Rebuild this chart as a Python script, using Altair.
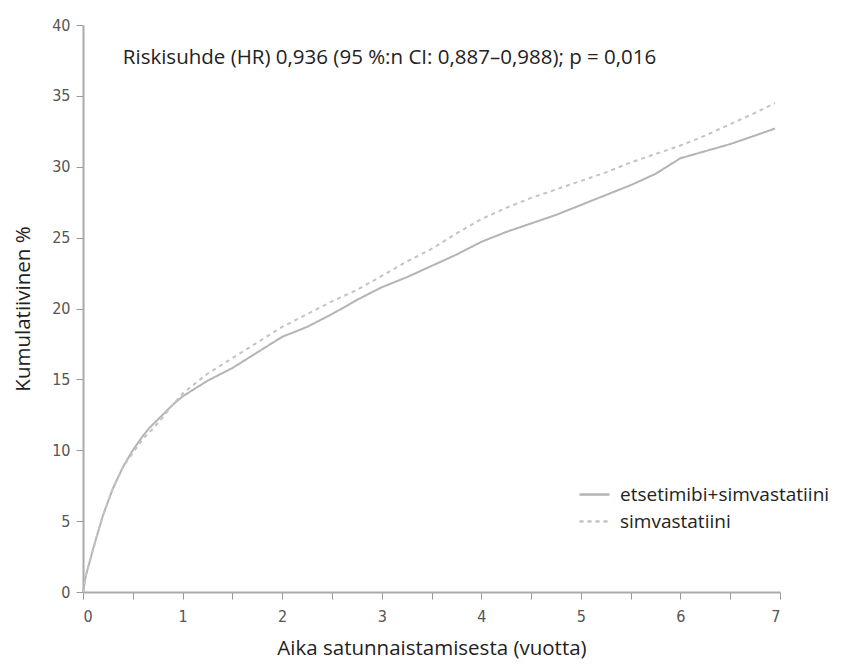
import altair as alt
import pandas as pd

series_names = ["etsetimibi+simvastatiini", "simvastatiini"]

years_combo = [0, 0.03, 0.07, 0.1, 0.2, 0.3, 0.4, 0.5, 0.6, 0.67, 0.8, 0.9, 1.0, 1.25, 1.5, 1.75,
               2.0, 2.25, 2.5, 2.75, 3.0, 3.25, 3.5, 3.75, 4.0, 4.25, 4.5, 4.75, 5.0,
               5.25, 5.5, 5.75, 6.0, 6.25, 6.5, 6.75, 6.95]
cum_combo = [0, 1.2, 2.2, 3.0, 5.4, 7.3, 8.8, 10.0, 11.0, 11.6, 12.5, 13.2, 13.8, 14.9, 15.8, 16.9,
             18.0, 18.7, 19.6, 20.6, 21.5, 22.2, 23.0, 23.8, 24.7, 25.4, 26.0, 26.6, 27.3,
             28.0, 28.7, 29.5, 30.6, 31.1, 31.6, 32.2, 32.7]

years_simva = [0, 0.03, 0.07, 0.1, 0.2, 0.3, 0.4, 0.5, 0.6, 0.7, 0.8, 0.9, 1.0, 1.25, 1.5, 1.75,
               2.0, 2.25, 2.5, 2.75, 3.0, 3.25, 3.5, 3.75, 4.0, 4.25, 4.5, 4.75, 5.0,
               5.25, 5.5, 5.75, 6.0, 6.25, 6.5, 6.75, 6.95]
cum_simva = [0, 1.2, 2.2, 3.0, 5.4, 7.3, 8.8, 9.8, 10.8, 11.5, 12.3, 13.2, 14.0, 15.4, 16.5, 17.6,
             18.7, 19.6, 20.5, 21.3, 22.3, 23.3, 24.2, 25.3, 26.3, 27.1, 27.8, 28.4, 29.0,
             29.6, 30.3, 30.9, 31.5, 32.2, 33.0, 33.8, 34.5]

annotation = "Riskisuhde (HR) 0,936 (95 %:n CI: 0,887–0,988); p = 0,016"
x_title = "Aika satunnaistamisesta (vuotta)"
y_title = "Kumulatiivinen %"
x_ticks = [i * 0.5 for i in range(15)]
y_ticks = [i * 2.5 for i in range(17)]

df = pd.concat([
    pd.DataFrame({"t": years_combo, "v": cum_combo, "s": series_names[0]}),
    pd.DataFrame({"t": years_simva, "v": cum_simva, "s": series_names[1]}),
])

label_font = "Liberation Sans Narrow, DejaVu Sans Condensed, sans-serif"
text_font = "Open Sans, Lato, sans-serif"

legend_cfg = dict(title=None, orient="none", legendX=495, legendY=453,
                  symbolType="stroke", symbolSize=900, symbolStrokeWidth=2.5,
                  labelFont=text_font, labelFontSize=19, labelColor="#222",
                  rowPadding=0, labelOffset=9, labelLimit=0)

lines = alt.Chart(df).mark_line(strokeWidth=2).encode(
    x=alt.X("t:Q", scale=alt.Scale(domain=[0, 7], nice=False),
            axis=alt.Axis(values=x_ticks, title=x_title, format="~g",
                          labelExpr="datum.value % 1 == 0 ? datum.label : ''")),
    y=alt.Y("v:Q", scale=alt.Scale(domain=[0, 40], nice=False),
            axis=alt.Axis(values=y_ticks, title=y_title, format="~g",
                          labelExpr="datum.value % 5 == 0 ? datum.label : ''")),
    color=alt.Color("s:N", scale=alt.Scale(domain=series_names, range=["#b4b4b4", "#c4c4c4"]),
                    legend=alt.Legend(**legend_cfg)),
    strokeDash=alt.StrokeDash("s:N", scale=alt.Scale(domain=series_names, range=[[1, 0], [4, 4]]),
                              legend=alt.Legend(**legend_cfg)),
)

ann = alt.Chart(pd.DataFrame({"t": [0.4], "v": [37.7], "txt": [annotation]})).mark_text(
    align="left", baseline="middle", font=text_font, fontSize=20.5, color="#222"
).encode(x="t:Q", y="v:Q", text="txt:N")

chart = alt.layer(lines, ann).properties(
    width=697, height=567,
    autosize=alt.AutoSizeParams(type="none"),
    padding={"left": 75, "top": 17, "right": 70, "bottom": 74},
).configure_view(stroke=None).configure_axis(
    grid=False, domainColor="#aaaaaa", domainWidth=2, tickColor="#999999", tickSize=7,
    labelFont=label_font, labelFontSize=16, labelColor="#555555", labelPadding=6,
    titleFont=text_font, titleFontSize=20.5, titleFontWeight="normal", titleColor="#222",
).configure_axisX(titlePadding=14, labelPadding=9).configure_axisY(titlePadding=18)

chart.save("out.html", embed_options={"renderer": "svg", "actions": False})
